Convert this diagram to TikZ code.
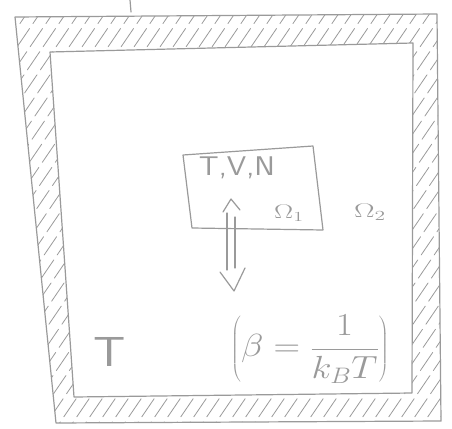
\documentclass[tikz,border=0pt]{standalone}
\usepackage{fix-cm}
\usepackage{graphicx}
\usetikzlibrary{calc}
\definecolor{pencil}{HTML}{9A9A9A}
\begin{document}
\begin{tikzpicture}[x=1pt,y=-1pt,
  stroke/.style={draw=pencil,line width=1.2pt,line cap=round,line join=round},
  hatch/.style={draw=pencil,line width=0.8pt,line cap=round},
  lbl/.style={text=pencil,inner sep=0pt,font=\sffamily}]
\useasboundingbox (0,0) rectangle (452,428);
% outer and inner wall corners
\coordinate (o1) at (15,17);
\coordinate (o2) at (437,14);
\coordinate (o3) at (441,421);
\coordinate (o4) at (56,423);
\coordinate (i1) at (50,52);
\coordinate (i2) at (413,43);
\coordinate (i3) at (412,393);
\coordinate (i4) at (74,397);
% hatching of the walls
\begin{scope}
  \clip (o1) -- (o2) -- (o3) -- (o4) -- cycle;
  \foreach \k in {-420,-407,...,460}
    \draw[hatch,dash pattern=on 22pt off 6pt] (\k,440) -- ++(300,-440);
\end{scope}
\fill[white] (i1) -- (i2) -- (i3) -- (i4) -- cycle;
% wall outlines
\draw[stroke] (o1) -- (o2) -- (o3) -- (o4) -- cycle;
\draw[stroke] (i1) -- (i2) -- (i3) -- (i4) -- cycle;
% stray mark at the top
\coordinate (m1) at (130,0);
\coordinate (m2) at (131,12);
\draw[stroke] (m1) -- (m2);
% small system box
\coordinate (b1) at (183,155);
\coordinate (b2) at (313,146);
\coordinate (b3) at (323,230);
\coordinate (b4) at (192,228);
\draw[stroke] (b1) -- (b2) -- (b3) -- (b4) -- cycle;
% labels
\node[lbl,font=\sffamily\fontsize{27}{29}\selectfont] (tvn) at (237,168)
  {\scalebox{1.15}[1]{T,V,N}};
\node[lbl,font=\fontsize{22}{24}\selectfont] (om1) at (289,213)
  {\scalebox{1.3}[0.9]{$\Omega_1$}};
\node[lbl,font=\fontsize{22}{24}\selectfont] (om2) at (370,212)
  {\scalebox{1.4}[0.9]{$\Omega_2$}};
\node[lbl,font=\sffamily\fontsize{42}{44}\selectfont] (T) at (110,352)
  {\scalebox{1.2}[1]{T}};
\node[lbl,font=\fontsize{32}{34}\selectfont] (beta) at (310,349)
  {\scalebox{1.15}[1]{$\displaystyle\left(\beta=\frac{1}{k_B T}\right)$}};
% double exchange arrow
\coordinate (la) at (227,213);
\coordinate (lb) at (227,270);
\coordinate (ra) at (235,217);
\coordinate (rb) at (235,268);
\draw[stroke] (la) -- (lb);
\draw[stroke] (ra) -- (rb);
\coordinate (tt) at (231,199);
\coordinate (bt) at (234,291);
\draw[stroke] ($(tt)+(-8,13)$) -- (tt) -- ($(tt)+(9,11)$);
\draw[stroke] ($(bt)+(-14,-19)$) -- (bt) -- ($(bt)+(11,-23)$);
\end{tikzpicture}
\end{document}
